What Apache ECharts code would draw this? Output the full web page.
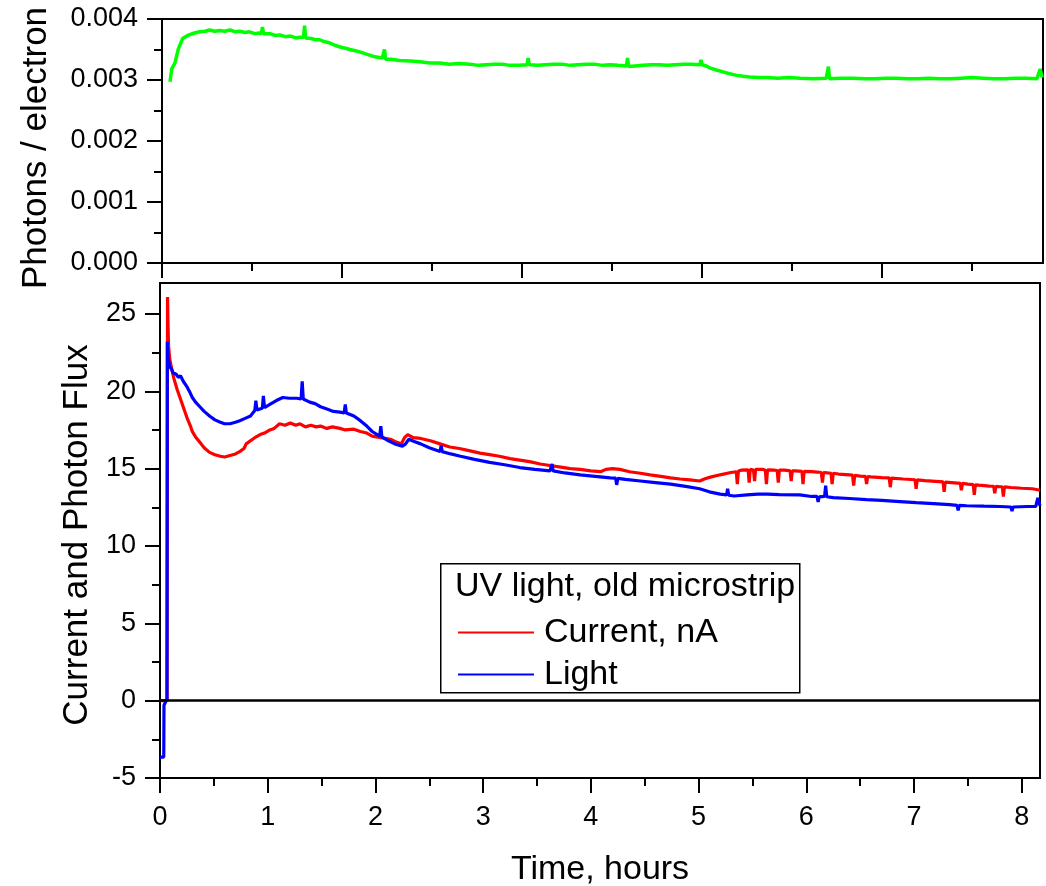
<!DOCTYPE html>
<html>
<head>
<meta charset="utf-8">
<title>UV light, old microstrip</title>
<script src="https://cdn.jsdelivr.net/npm/echarts@6/dist/echarts.min.js"></script>
<style>
  html, body { margin: 0; padding: 0; background: #ffffff; }
  #chart { width: 1046px; height: 886px; }
</style>
</head>
<body>
<div id="chart"></div>
<script>
// Photon yield per electron, [time in hours, photons / electron]
const photonsPerElectron = [
  [0.074,0.00297],[0.09,0.00318],[0.12,0.00328],[0.15,0.00350],[0.19,0.00368],[0.25,0.00374],
  [0.30,0.00377],[0.35,0.00379],[0.40,0.00380],[0.44,0.00382],[0.49,0.00380],[0.53,0.00381],
  [0.58,0.00380],[0.63,0.00382],[0.68,0.00379],[0.72,0.00380],[0.77,0.00378],[0.81,0.00379],
  [0.86,0.00376],[0.90,0.00377],[0.92,0.00376],[0.93,0.00387],[0.94,0.00376],[1.00,0.00376],
  [1.05,0.00373],[1.09,0.00374],[1.14,0.00371],[1.19,0.00372],[1.24,0.00369],[1.28,0.00370],
  [1.31,0.00370],[1.32,0.00389],[1.33,0.00369],[1.38,0.00368],[1.42,0.00366],[1.46,0.00366],
  [1.50,0.00363],[1.55,0.00361],[1.60,0.00357],[1.65,0.00354],[1.70,0.00352],[1.74,0.00350],
  [1.79,0.00348],[1.83,0.00346],[1.90,0.00342],[1.97,0.00338],[2.04,0.00336],[2.05,0.00335],
  [2.06,0.00350],[2.07,0.00334],[2.12,0.00334],[2.20,0.00332],[2.30,0.00331],[2.39,0.00330],
  [2.48,0.00328],[2.57,0.00328],[2.66,0.00326],[2.75,0.00327],[2.85,0.00326],[2.93,0.00324],
  [3.00,0.00325],[3.08,0.00326],[3.15,0.00326],[3.22,0.00324],[3.30,0.00324],[3.38,0.00325],
  [3.39,0.00336],[3.40,0.00325],[3.48,0.00324],[3.55,0.00325],[3.63,0.00326],[3.70,0.00326],
  [3.78,0.00324],[3.85,0.00325],[3.93,0.00326],[4.00,0.00326],[4.08,0.00324],[4.15,0.00325],
  [4.22,0.00324],[4.30,0.00323],[4.31,0.00336],[4.32,0.00322],[4.38,0.00323],[4.45,0.00324],
  [4.53,0.00325],[4.60,0.00325],[4.68,0.00324],[4.75,0.00325],[4.83,0.00326],[4.90,0.00326],
  [4.98,0.00325],[4.99,0.00333],[5.00,0.00325],[5.04,0.00323],[5.07,0.00320],[5.14,0.00316],
  [5.22,0.00312],[5.31,0.00308],[5.38,0.00306],[5.44,0.00305],[5.52,0.00304],[5.60,0.00304],
  [5.70,0.00303],[5.80,0.00304],[5.91,0.00303],[6.03,0.00302],[6.15,0.00303],[6.16,0.00303],
  [6.17,0.00322],[6.18,0.00302],[6.28,0.00303],[6.40,0.00303],[6.50,0.00302],[6.60,0.00302],
  [6.70,0.00303],[6.80,0.00303],[6.90,0.00302],[7.00,0.00302],[7.10,0.00303],[7.20,0.00302],
  [7.30,0.00302],[7.40,0.00303],[7.50,0.00304],[7.60,0.00303],[7.70,0.00302],[7.80,0.00302],
  [7.90,0.00303],[8.00,0.00303],[8.10,0.00302],[8.13,0.00318],[8.15,0.00304]
];

// Current, nA: [time in hours, value]
const currentNA = [
  [0.00,0.0],[0.065,0.0],[0.07,26.1],[0.075,24.0],[0.08,22.9],[0.09,22.1],[0.11,21.4],[0.13,20.8],[0.16,20.1],
  [0.19,19.5],[0.22,18.9],[0.25,18.3],[0.28,17.8],[0.30,17.4],[0.33,17.05],[0.37,16.7],[0.41,16.35],
  [0.46,16.05],[0.51,15.9],[0.56,15.8],[0.60,15.75],[0.65,15.85],[0.70,15.95],[0.74,16.1],[0.78,16.3],
  [0.80,16.6],[0.84,16.8],[0.88,17.0],[0.93,17.2],[0.97,17.3],[1.02,17.5],[1.06,17.6],[1.11,17.9],
  [1.16,17.8],[1.21,17.95],[1.26,17.8],[1.30,17.9],[1.35,17.7],[1.40,17.8],[1.45,17.7],[1.49,17.75],
  [1.55,17.6],[1.60,17.7],[1.67,17.6],[1.72,17.5],[1.80,17.55],[1.86,17.4],[1.92,17.3],[1.97,17.1],
  [2.05,17.0],[2.14,16.9],[2.20,16.7],[2.24,16.6],[2.27,17.0],[2.30,17.2],[2.35,17.0],[2.42,16.95],
  [2.51,16.8],[2.60,16.6],[2.69,16.4],[2.78,16.3],[2.88,16.15],[2.97,16.0],[3.06,15.9],[3.15,15.8],
  [3.25,15.65],[3.34,15.55],[3.43,15.45],[3.53,15.3],[3.62,15.2],[3.72,15.1],[3.81,15.0],[3.90,14.95],
  [4.00,14.85],[4.09,14.8],[4.14,14.95],[4.20,15.0],[4.27,14.95],[4.36,14.8],[4.46,14.7],[4.55,14.6],
  [4.65,14.5],[4.74,14.4],[4.83,14.33],[4.92,14.27],[5.01,14.2],[5.06,14.35],[5.11,14.45],[5.20,14.6],
  [5.30,14.75],[5.35,14.8],[5.36,14.0],[5.37,14.85],[5.40,14.9],[5.46,14.92],[5.47,14.1],[5.48,14.95],
  [5.51,14.9],[5.52,14.2],[5.53,14.95],[5.60,14.95],[5.62,14.9],[5.63,14.0],[5.64,14.92],[5.70,14.9],
  [5.73,14.88],[5.74,14.1],[5.75,14.9],[5.80,14.9],[5.85,14.86],[5.86,14.2],[5.87,14.85],[5.90,14.85],
  [5.96,14.82],[5.97,14.0],[5.98,14.82],[6.05,14.8],[6.10,14.78],[6.14,14.75],[6.15,14.1],[6.16,14.75],
  [6.20,14.72],[6.23,14.7],[6.24,14.0],[6.25,14.7],[6.30,14.65],[6.40,14.6],[6.43,14.58],[6.44,13.9],
  [6.45,14.57],[6.50,14.52],[6.55,14.5],[6.56,14.0],[6.57,14.49],[6.60,14.47],[6.70,14.42],[6.77,14.4],
  [6.78,13.8],[6.79,14.39],[6.80,14.38],[6.90,14.33],[7.01,14.28],[7.02,13.7],[7.03,14.27],[7.10,14.23],
  [7.20,14.18],[7.27,14.14],[7.28,13.5],[7.29,14.13],[7.35,14.1],[7.43,14.05],[7.44,13.6],[7.45,14.05],
  [7.50,14.0],[7.55,13.97],[7.56,13.3],[7.57,13.96],[7.60,13.93],[7.70,13.87],[7.74,13.86],[7.75,13.4],
  [7.76,13.85],[7.80,13.83],[7.82,13.82],[7.83,13.2],[7.84,13.82],[7.90,13.78],[8.00,13.73],[8.10,13.7],
  [8.17,13.6]
];

// Light (photon flux): [time in hours, value]
const lightFlux = [
  [0.00,-3.65],[0.035,-3.65],[0.037,-0.3],[0.055,-0.2],[0.065,0.1],[0.068,23.2],[0.075,22.2],[0.09,21.6],
  [0.11,21.4],[0.12,21.2],[0.13,21.3],[0.15,21.1],[0.17,20.9],[0.19,21.0],[0.22,20.6],[0.25,20.3],
  [0.28,19.9],[0.30,19.6],[0.33,19.3],[0.37,19.0],[0.41,18.7],[0.46,18.4],[0.51,18.15],[0.56,18.0],
  [0.60,17.9],[0.65,17.9],[0.70,18.0],[0.74,18.1],[0.79,18.25],[0.84,18.4],[0.88,18.75],[0.89,19.4],
  [0.90,18.8],[0.95,18.9],[0.96,19.7],[0.97,18.95],[1.02,19.15],[1.08,19.4],[1.14,19.6],[1.20,19.55],
  [1.27,19.55],[1.31,19.5],[1.32,20.65],[1.33,19.5],[1.39,19.3],[1.44,19.2],[1.49,19.0],[1.55,18.85],
  [1.61,18.7],[1.67,18.65],[1.71,18.6],[1.72,19.15],[1.73,18.6],[1.80,18.4],[1.86,18.1],[1.92,17.75],
  [1.97,17.4],[2.04,17.1],[2.05,17.75],[2.06,17.05],[2.12,16.8],[2.18,16.6],[2.25,16.45],[2.28,16.6],
  [2.31,16.9],[2.36,16.75],[2.42,16.6],[2.50,16.35],[2.60,16.1],[2.61,16.5],[2.62,16.1],[2.70,15.95],
  [2.79,15.8],[2.92,15.6],[3.06,15.4],[3.20,15.25],[3.34,15.07],[3.48,14.95],[3.62,14.85],[3.64,15.3],
  [3.65,14.85],[3.76,14.72],[3.90,14.6],[4.04,14.5],[4.18,14.4],[4.23,14.38],[4.24,13.95],[4.25,14.37],
  [4.32,14.3],[4.46,14.2],[4.60,14.1],[4.74,14.0],[4.88,13.85],[5.01,13.7],[5.10,13.5],[5.20,13.35],
  [5.26,13.3],[5.27,13.7],[5.28,13.28],[5.33,13.23],[5.45,13.3],[5.55,13.35],[5.64,13.35],[5.75,13.32],
  [5.94,13.3],[6.05,13.2],[6.10,13.2],[6.11,12.85],[6.12,13.18],[6.17,13.2],[6.18,13.9],[6.19,13.18],
  [6.25,13.13],[6.40,13.07],[6.56,13.0],[6.70,12.95],[6.87,12.87],[7.02,12.8],[7.18,12.74],[7.33,12.67],
  [7.40,12.62],[7.41,12.3],[7.42,12.62],[7.49,12.6],[7.65,12.57],[7.80,12.55],[7.90,12.52],[7.91,12.25],
  [7.92,12.52],[8.05,12.55],[8.13,12.55],[8.15,13.1],[8.17,12.6]
];

// Tick values
const timeTicks = [0, 1, 2, 3, 4, 5, 6, 7, 8];
const fluxTicks = [-5, 0, 5, 10, 15, 20, 25];
const minuteTicks = [0, 100, 200, 300, 400];

const seriesNames = ['Current, nA', 'Light'];
const legendTitle = 'UV light, old microstrip';

const FONT = '"Liberation Sans", Arial, Helvetica, sans-serif';
const BLACK = '#000000';
const TICK_FONT = 27;
const TITLE_FONT = 34;

function axisBase() {
  return {
    type: 'value',
    axisLine: { show: true, onZero: false, lineStyle: { color: BLACK, width: 2 } },
    axisTick: { show: true, inside: false, length: 15, lineStyle: { color: BLACK, width: 2 } },
    minorTick: { show: true, splitNumber: 2, length: 8, lineStyle: { color: BLACK, width: 2 } },
    splitLine: { show: false },
    minorSplitLine: { show: false },
    axisLabel: { color: BLACK, fontSize: TICK_FONT, fontFamily: FONT, margin: 24 },
    nameLocation: 'middle',
    nameTextStyle: { color: BLACK, fontSize: TITLE_FONT, fontFamily: FONT }
  };
}

// the top panel shares the time span but is ticked in minutes
const toMinutes = (rows) => rows.map(r => [r[0] * 60, r[1]]);

const chart = echarts.init(document.getElementById('chart'), null, { renderer: 'canvas' });

chart.setOption({
  animation: false,
  backgroundColor: '#ffffff',
  grid: [
    { left: 162, top: 19, width: 881, height: 244, show: true, borderColor: BLACK, borderWidth: 2,
      backgroundColor: 'transparent', containLabel: false, outerBoundsMode: 'none' },
    { left: 160, top: 283, width: 880, height: 495, show: true, borderColor: BLACK, borderWidth: 2,
      backgroundColor: 'transparent', containLabel: false, outerBoundsMode: 'none' }
  ],
  xAxis: [
    Object.assign(axisBase(), {
      gridIndex: 0, min: 0, max: 489.4, interval: 100,
      axisTick: { show: true, inside: false, length: 15, customValues: minuteTicks, lineStyle: { color: BLACK, width: 2 } },
      axisLabel: { show: false }
    }),
    Object.assign(axisBase(), {
      gridIndex: 1, min: 0, max: 8.17, interval: 1,
      name: 'Time, hours', nameGap: 75,
      axisTick: { show: true, inside: false, length: 15, customValues: timeTicks, lineStyle: { color: BLACK, width: 2 } },
      axisLabel: { color: BLACK, fontSize: TICK_FONT, fontFamily: FONT, margin: 26, customValues: timeTicks }
    })
  ],
  yAxis: [
    Object.assign(axisBase(), {
      gridIndex: 0, min: 0, max: 0.004, interval: 0.001,
      name: 'Photons / electron', nameGap: 108,
      nameTextStyle: { color: BLACK, fontSize: 35, fontFamily: FONT, padding: [0, 14, 0, 0] },
      axisLabel: { color: BLACK, fontSize: TICK_FONT, fontFamily: FONT, margin: 24, formatter: v => v.toFixed(3) }
    }),
    Object.assign(axisBase(), {
      gridIndex: 1, min: -5, max: 27, interval: 5,
      name: 'Current and Photon Flux', nameGap: 62,
      nameTextStyle: { color: BLACK, fontSize: 35, fontFamily: FONT, padding: [0, 9, 0, 0] },
      axisTick: { show: true, inside: false, length: 15, customValues: fluxTicks, lineStyle: { color: BLACK, width: 2 } },
      axisLabel: { color: BLACK, fontSize: TICK_FONT, fontFamily: FONT, margin: 24, customValues: fluxTicks }
    })
  ],
  legend: {
    data: seriesNames,
    orient: 'vertical',
    left: 453,
    top: 609,
    icon: 'rect',
    itemWidth: 76,
    itemHeight: 2,
    itemGap: 5,
    selectedMode: false,
    textStyle: { color: BLACK, fontSize: TITLE_FONT, fontFamily: FONT, lineHeight: 37, padding: [0, 0, 0, 5] }
  },
  graphic: [
    {
      type: 'rect', left: 440, top: 563, z: 1,
      shape: { width: 359, height: 129 },
      style: { fill: '#ffffff', stroke: BLACK, lineWidth: 1.5 }
    },
    {
      type: 'text', left: 455, top: 570, z: 5,
      style: { text: legendTitle, font: TITLE_FONT + 'px ' + FONT, fill: BLACK }
    }
  ],
  series: [
    {
      type: 'line', name: 'Photons / electron', xAxisIndex: 0, yAxisIndex: 0,
      data: toMinutes(photonsPerElectron), showSymbol: false, color: '#00ff00',
      lineStyle: { color: '#00ff00', width: 3.5 }, z: 3
    },
    {
      type: 'line', name: seriesNames[0], xAxisIndex: 1, yAxisIndex: 1,
      data: currentNA, showSymbol: false, color: '#ff0000',
      lineStyle: { color: '#ff0000', width: 3.2 }, z: 3,
      markLine: {
        silent: true, symbol: 'none', label: { show: false },
        lineStyle: { color: BLACK, width: 2.5, type: 'solid' },
        data: [{ yAxis: 0 }]
      }
    },
    {
      type: 'line', name: seriesNames[1], xAxisIndex: 1, yAxisIndex: 1,
      data: lightFlux, showSymbol: false, color: '#0000ff',
      lineStyle: { color: '#0000ff', width: 3.2 }, z: 3
    }
  ]
});
</script>
</body>
</html>
